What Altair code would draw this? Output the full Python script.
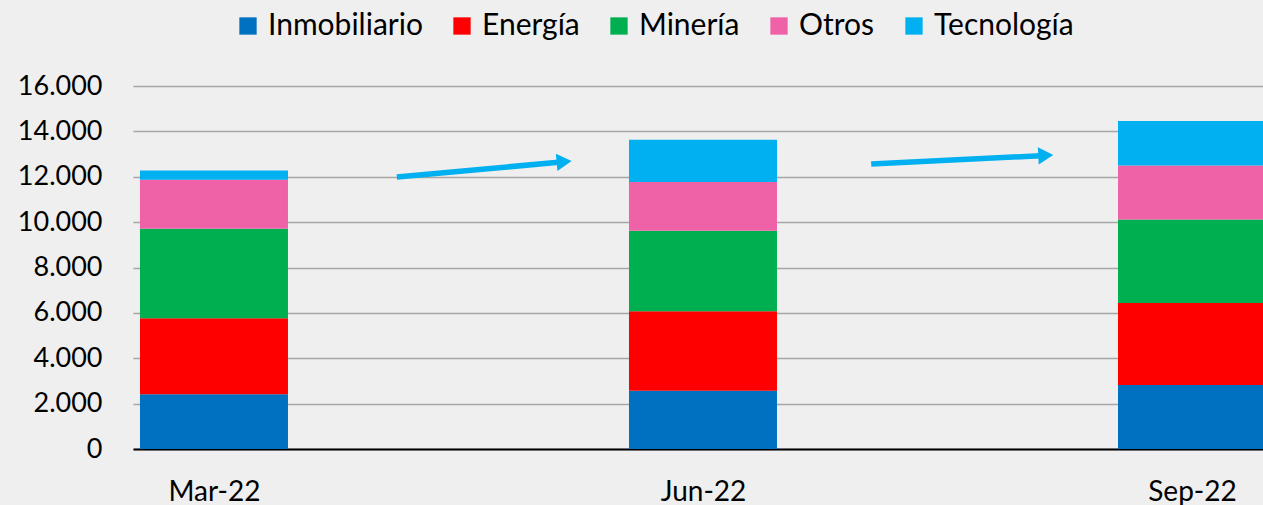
import altair as alt
import pandas as pd

categories = ["Mar-22", "Jun-22", "Sep-22"]
series = ["Inmobiliario", "Energía", "Minería", "Otros", "Tecnología"]
colors = ["#0070C0", "#FF0000", "#00B050", "#F062A8", "#00B0F0"]

inmobiliario = [2410, 2570, 2820]
energia = [3350, 3500, 3610]
mineria = [3950, 3550, 3690]
otros = [2160, 2150, 2380]
tecnologia = [410, 1860, 1960]

# arrows drawn in data coordinates (category position, value)
arrow_x0 = [0.374, 1.344]
arrow_y0 = [11990, 12560]
arrow_x1 = [0.716, 1.701]
arrow_y1 = [12660, 12940]
arrow_angle = [354.8, 357.2]

values = [inmobiliario, energia, mineria, otros, tecnologia]
rows = []
for si, (name, vals) in enumerate(zip(series, values)):
    for ci, (cat, v) in enumerate(zip(categories, vals)):
        rows.append({"pos": ci, "cat": cat, "serie": name, "order": si, "valor": v})
df = pd.DataFrame(rows)

arrows = pd.DataFrame({"x0": arrow_x0, "y0": arrow_y0, "x1": arrow_x1,
                       "y1": arrow_y1, "ang": arrow_angle})

label_expr = "[" + ",".join("'%s'" % c for c in categories) + "][datum.value]"

xscale = alt.Scale(domain=[-0.1656, 2.1452], nice=False, zero=False, padding=0)
yscale = alt.Scale(domain=[0, 16000], nice=False, padding=0)

bars = alt.Chart(df).mark_bar(size=148).encode(
    x=alt.X("pos:Q", scale=xscale, title=None,
            axis=alt.Axis(values=[0, 1, 2], labelExpr=label_expr, grid=False,
                          ticks=False, domainColor="#000000", domainWidth=2,
                          labelFontSize=28, labelColor="#000000", labelPadding=29,
                          labelBaseline="top")),
    y=alt.Y("valor:Q", stack="zero", scale=yscale, title=None,
            axis=alt.Axis(values=list(range(0, 16001, 2000)), format=",.0f",
                          labelExpr="replace(datum.label, ',', '.')",
                          domain=False, ticks=False, gridColor="#A6A6A6",
                          gridWidth=1.6, labelFontSize=27, labelColor="#000000",
                          labelPadding=31)),
    color=alt.Color("serie:N", scale=alt.Scale(domain=series, range=colors),
                    legend=alt.Legend(title=None, orient="none", direction="horizontal",
                                      legendX=100, legendY=-75, symbolType="square",
                                      symbolSize=300, symbolStrokeWidth=0,
                                      symbolOpacity=1, labelFontSize=30,
                                      labelColor="#000000", labelOffset=5,
                                      columnPadding=24, padding=0)),
    order=alt.Order("order:Q", sort="ascending"),
)

shafts = alt.Chart(arrows).mark_rule(color="#00B0F0", strokeWidth=5.5, strokeCap="butt").encode(
    x=alt.X("x0:Q", scale=xscale), y=alt.Y("y0:Q", scale=yscale),
    x2="x1:Q", y2="y1:Q",
)

heads = alt.Chart(arrows).mark_point(shape="triangle-right", filled=True, size=300,
                                     color="#00B0F0", opacity=1).encode(
    x=alt.X("x1:Q", scale=xscale), y=alt.Y("y1:Q", scale=yscale),
    angle=alt.Angle("ang:Q", scale=None),
)

chart = alt.layer(bars, shafts, heads).properties(
    width=1130, height=363,
    autosize=alt.AutoSizeParams(type="none"),
    padding={"left": 133, "top": 86, "right": 0, "bottom": 56},
    background="#EFEFEF",
).configure(font="Lato").configure_view(stroke=None)

chart.save("out.html", embed_options={"renderer": "svg", "actions": False})
